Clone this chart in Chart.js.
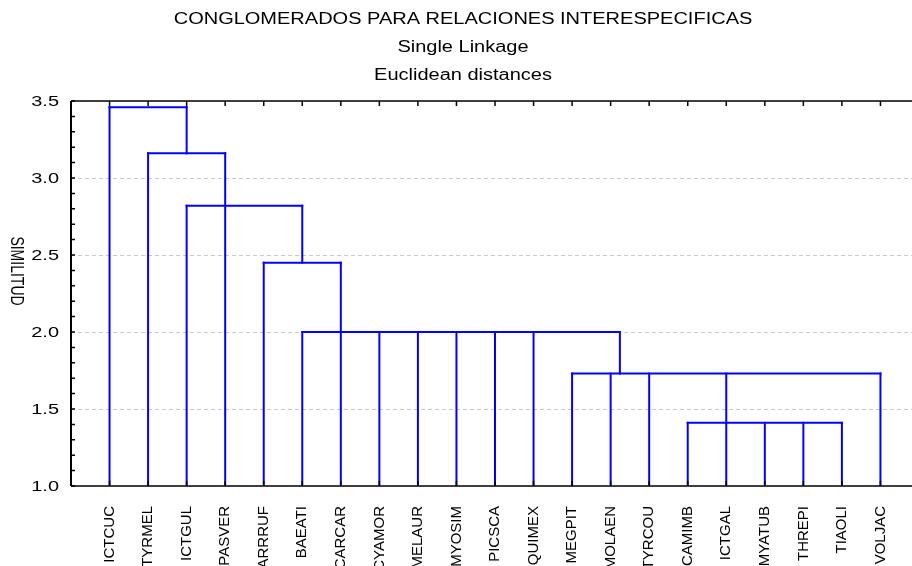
<!DOCTYPE html>
<html>
<head>
<meta charset="utf-8">
<script src="https://cdn.jsdelivr.net/npm/chart.js@4.4.1/dist/chart.umd.min.js"></script>
<style>
  html, body { margin: 0; padding: 0; background: #fff; overflow: hidden; }
  #wrap { position: relative; width: 922px; height: 566px; }
</style>
</head>
<body>
<div id="wrap"><canvas id="tree"></canvas></div>
<script>
// leaves of the tree, left to right
const species = ["ICTCUC", "TYRMEL", "ICTGUL", "PASVER", "ARRRUF", "BAEATI", "CARCAR",
  "CYAMOR", "MELAUR", "MYOSIM", "PICSCA", "QUIMEX", "MEGPIT", "MOLAEN", "TYRCOU",
  "CAMIMB", "ICTGAL", "MYATUB", "THREPI", "TIAOLI", "VOLJAC"];
// height reached by each leaf's vertical line
const leafHeight = [3.46, 3.16, 2.82, 3.16, 2.45, 2.0, 2.45, 2.0, 2.0, 2.0, 2.0, 2.0,
  1.73, 1.73, 1.73, 1.41, 1.41, 1.41, 1.41, 1.41, 1.73];
// horizontal joins (positions in leaf units, 1 = first leaf)
const joinFrom = [1, 2, 3, 5, 6, 13, 16];
const joinTo = [3, 4, 6, 7, 14.24, 21, 20];
const joinHeight = [3.46, 3.16, 2.82, 2.45, 2.0, 1.73, 1.41];
// vertical connectors between joins
const linkX = [3, 6, 14.24, 17];
const linkLow = [3.16, 2.45, 1.73, 1.41];
const linkHigh = [3.46, 2.82, 2.0, 1.73];

const titleLines = ["CONGLOMERADOS PARA RELACIONES INTERESPECIFICAS", "Single Linkage", "Euclidean distances"];
const yTitle = "SIMILITUD";
const yMin = 1.0, yMax = 3.5, yStep = 0.5;

document.addEventListener("DOMContentLoaded", function () {
  const blue = "#0000ff";
  const font = "'Liberation Sans', Arial, sans-serif";

  // build line segments from the tree arrays
  const segments = [];
  species.forEach((name, i) => {
    segments.push([{ x: i + 1, y: yMin }, { x: i + 1, y: leafHeight[i] }]);
  });
  joinHeight.forEach((h, i) => {
    segments.push([{ x: joinFrom[i], y: h }, { x: joinTo[i], y: h }]);
  });
  linkX.forEach((x, i) => {
    segments.push([{ x: x, y: linkLow[i] }, { x: x, y: linkHigh[i] }]);
  });

  const datasets = segments.map((pts) => ({
    data: pts,
    showLine: true,
    borderColor: blue,
    borderWidth: 2,
    borderCapStyle: "square",
    pointRadius: 0,
    fill: false,
  }));

  // horizontal text in the original looks stretched sideways
  function wideText(ctx, text, x, y, align, sx) {
    ctx.save();
    ctx.translate(x, y);
    ctx.scale(sx, 1);
    ctx.textAlign = align;
    ctx.fillText(text, 0, 0);
    ctx.restore();
  }

  const decor = {
    id: "decor",
    afterDraw(chart) {
      const ctx = chart.ctx;
      const a = chart.chartArea;
      const xs = chart.scales.x, ys = chart.scales.y;
      ctx.save();
      ctx.fillStyle = "#000";
      ctx.strokeStyle = "#000";

      // frame
      ctx.lineWidth = 2;
      ctx.beginPath();
      ctx.moveTo(a.left, a.top); ctx.lineTo(a.left, a.bottom);
      ctx.stroke();
      ctx.lineWidth = 1.6;
      ctx.beginPath();
      ctx.moveTo(a.left, a.top); ctx.lineTo(a.right, a.top);
      ctx.moveTo(a.left, a.bottom); ctx.lineTo(a.right, a.bottom);
      ctx.stroke();

      // small inner ticks on y every 0.1
      ctx.lineWidth = 1.5;
      ctx.beginPath();
      for (let k = 0; k <= Math.round((yMax - yMin) * 10); k++) {
        const py = ys.getPixelForValue(yMin + k / 10);
        ctx.moveTo(a.left, py); ctx.lineTo(a.left + 4, py);
      }
      // ticks at every leaf, top and bottom
      species.forEach((name, i) => {
        const px = xs.getPixelForValue(i + 1);
        ctx.moveTo(px, a.bottom); ctx.lineTo(px, a.bottom - 5);
        ctx.moveTo(px, a.top); ctx.lineTo(px, a.top + 5);
      });
      ctx.stroke();

      // y tick labels
      ctx.font = "15px " + font;
      ctx.textBaseline = "middle";
      ys.ticks.forEach((t) => {
        wideText(ctx, t.value.toFixed(1), a.left - 12, ys.getPixelForValue(t.value) + 1, "right", 1.33);
      });

      // leaf labels, rotated
      ctx.font = "15px " + font;
      species.forEach((name, i) => {
        const px = xs.getPixelForValue(i + 1);
        ctx.save();
        ctx.translate(px, a.bottom + 20);
        ctx.rotate(-Math.PI / 2);
        ctx.textAlign = "right";
        ctx.textBaseline = "middle";
        ctx.fillText(name, 0, 0);
        ctx.restore();
      });

      // y axis title, reads top to bottom
      ctx.save();
      ctx.font = "14px " + font;
      ctx.translate(16, 271);
      ctx.rotate(Math.PI / 2);
      ctx.scale(1, 1.25);
      ctx.textAlign = "center";
      ctx.textBaseline = "middle";
      ctx.fillText(yTitle, 0, 0);
      ctx.restore();

      // titles
      ctx.font = "16px " + font;
      ctx.textBaseline = "middle";
      titleLines.forEach((line, i) => {
        wideText(ctx, line, 463, 20 + i * 28, "center", 1.25);
      });
      ctx.restore();
    },
  };

  const ctx = document.getElementById("tree").getContext("2d");
  new Chart(ctx, {
    type: "scatter",
    data: { datasets: datasets },
    options: {
      responsive: true,
      maintainAspectRatio: false,
      animation: false,
      layout: { padding: { top: 101, left: 71, right: 3, bottom: 80 } },
      plugins: { legend: { display: false }, tooltip: { enabled: false } },
      scales: {
        x: { type: "linear", min: 0, max: species.length + 1, display: false },
        y: {
          type: "linear",
          min: yMin,
          max: yMax,
          ticks: { stepSize: yStep, display: false },
          border: { display: false, dash: [4, 3] },
          grid: {
            drawTicks: false,
            lineWidth: 1,
            color: (c) => (c.tick && (c.tick.value === yMin || c.tick.value === yMax)) ? "rgba(0,0,0,0)" : "#c8c8c8",
          },
        },
      },
    },
    plugins: [decor],
  });
});
</script>
</body>
</html>
